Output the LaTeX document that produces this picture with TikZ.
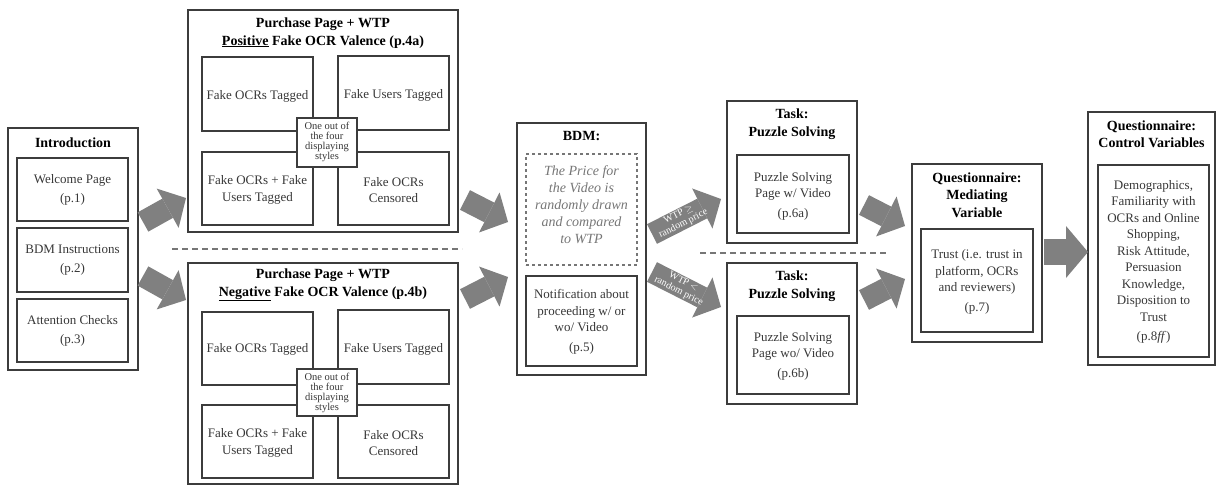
\documentclass[tikz,border=0pt]{standalone}
\usepackage{fontspec}
\setmainfont{Liberation Serif}
\usetikzlibrary{fit,arrows.meta}
\definecolor{linegray}{RGB}{60,60,60}
\definecolor{textgray}{RGB}{55,55,55}
\definecolor{arrowgray}{RGB}{128,128,128}
\definecolor{notegray}{RGB}{118,118,118}
\newcommand{\frameBox}[5]{ \node[frame, fit={(#2,#3) (#4,#5)}] (#1) {};}
\newcommand{\dashBox}[5]{ \node[frame, dashed, draw=notegray, fit={(#2,#3) (#4,#5)}] (#1) {};}
\newcommand{\styleBox}[5]{ \node[frame, fill=white, fit={(#2,#3) (#4,#5)}] (#1) {};}
\newcommand{\headnode}[4]{\node[head] (#1) at ( #2 , #3 ) {#4};}
\newcommand{\textnode}[4]{\node[body] (#1) at ( #2 , #3 ) {#4};}

\begin{document}
\begin{tikzpicture}[x=1pt,y=-1pt,
    frame/.style={draw=linegray, line width=1.2pt, inner sep=0pt},
    head/.style={font=\bfseries\fontsize{14}{17.5}\selectfont, align=center, inner sep=0pt},
    body/.style={text=textgray, font=\fontsize{13}{16.5}\selectfont, align=center, inner sep=0pt},
    small/.style={text=textgray, font=\fontsize{10.5}{10.2}\selectfont, align=center, inner sep=0pt},
    note/.style={text=notegray, font=\itshape\fontsize{14}{17}\selectfont, align=center, inner sep=0pt},
    tag/.style={text=white, font=\fontsize{10}{10.5}\selectfont, align=center, inner sep=0pt},
    flow/.style={draw=arrowgray, line width=22pt, -{Triangle[length=21pt,width=45pt,line width=0pt]}},
    wideflow/.style={draw=arrowgray, line width=26pt, -{Triangle[length=22pt,width=52pt,line width=0pt]}},
    split/.style={draw=notegray, line width=1.2pt, dash pattern=on 6pt off 4pt}]
        \useasboundingbox (0,0) rectangle (1217,485);
        % introduction
        \frameBox{intro}{8}{128}{138}{370}
        \headnode{introH}{73}{143}{Introduction}
        \frameBox{welcome}{17}{158}{128}{221}
        \textnode{welcomeT}{72.5}{190}{Welcome Page\\[3pt](p.1)}
        \frameBox{instr}{17}{228}{128}{292}
        \textnode{instrT}{72.5}{260}{BDM Instructions\\[3pt](p.2)}
        \frameBox{attn}{17}{299}{128}{362}
        \textnode{attnT}{72.5}{331}{Attention Checks\\[3pt](p.3)}
        % purchase page, positive
        \frameBox{posP}{188}{10}{458}{232}
        \headnode{posH}{323}{33}{Purchase Page + WTP\\\underline{Positive} Fake OCR Valence (p.4a)}
        \frameBox{posA}{202}{57}{313}{131}
        \textnode{posAT}{257.5}{96}{Fake OCRs Tagged}
        \frameBox{posB}{338}{56}{449}{130}
        \textnode{posBT}{393.5}{95}{Fake Users Tagged}
        \frameBox{posC}{202}{152}{313}{225}
        \textnode{posCT}{257.5}{190}{Fake OCRs + Fake\\Users Tagged}
        \frameBox{posD}{338}{152}{449}{225}
        \textnode{posDT}{393.5}{190}{Fake OCRs\\Censored}
        \styleBox{posS}{297}{118}{357}{167}
        \node[small] (posST) at (327,142) {One out of\\the four\\displaying\\styles};
        % purchase page, negative
        \frameBox{negP}{188}{263}{458}{484}
        \headnode{negH}{323}{285}{Purchase Page + WTP\\\underline{Negative} Fake OCR Valence (p.4b)}
        \frameBox{negA}{202}{312}{313}{385}
        \textnode{negAT}{257.5}{349}{Fake OCRs Tagged}
        \frameBox{negB}{338}{310}{449}{384}
        \textnode{negBT}{393.5}{349}{Fake Users Tagged}
        \frameBox{negC}{202}{405}{313}{478}
        \textnode{negCT}{257.5}{443}{Fake OCRs + Fake\\Users Tagged}
        \frameBox{negD}{338}{405}{449}{478}
        \textnode{negDT}{393.5}{443}{Fake OCRs\\Censored}
        \styleBox{negS}{297}{369}{357}{416}
        \node[small] (negST) at (327,393) {One out of\\the four\\displaying\\styles};
        % BDM
        \frameBox{bdm}{517}{123}{646}{375}
        \headnode{bdmH}{581.5}{136}{BDM:}
        \dashBox{draw}{526}{154}{637}{265}
        \node[note] (drawT) at (581.5,205) {The Price for\\the Video is\\randomly drawn\\and compared\\to WTP};
        \frameBox{notif}{526}{276}{637}{366}
        \textnode{notifT}{581.5}{322}{Notification about\\proceeding w/ or\\wo/ Video\\[3pt](p.5)};
        % tasks
        \frameBox{taskA}{727}{101}{857}{243}
        \headnode{taskAH}{792}{124}{Task:\\Puzzle Solving}
        \frameBox{taskAi}{737}{155}{849}{233}
        \textnode{taskAT}{793}{196}{Puzzle Solving\\Page w/ Video\\[3pt](p.6a)}
        \frameBox{taskB}{727}{263}{857}{404}
        \headnode{taskBH}{792}{286}{Task:\\Puzzle Solving}
        \frameBox{taskBi}{737}{316}{849}{394}
        \textnode{taskBT}{793}{356}{Puzzle Solving\\Page wo/ Video\\[3pt](p.6b)}
        % questionnaires
        \frameBox{med}{912}{164}{1042}{342}
        \headnode{medH}{977}{195}{Questionnaire:\\Mediating\\Variable}
        \frameBox{medi}{921}{229}{1033}{332}
        \textnode{medT}{977}{282}{Trust (i.e. trust in\\platform, OCRs\\and reviewers)\\[3pt](p.7)}
        \frameBox{ctrl}{1088}{112}{1215}{365}
        \headnode{ctrlH}{1151.5}{134}{Questionnaire:\\Control Variables}
        \frameBox{ctrli}{1098}{165}{1209}{357}
        \textnode{ctrlT}{1153.5}{262}{Demographics,\\Familiarity with\\OCRs and Online\\Shopping,\\Risk Attitude,\\Persuasion\\Knowledge,\\Disposition to\\Trust\\[3pt](p.8\textit{ff})}
        % separators
        \draw[split] (172,249) -- (462,249);
        \draw[split] (700,253) -- (886,253);
        % arrow ends
        \coordinate (i1) at (143,222); \coordinate (p1) at (186,198);
        \coordinate (i2) at (143,276); \coordinate (p2) at (186,300);
        \coordinate (q1) at (465,200); \coordinate (b1) at (508,222);
        \coordinate (q2) at (465,299); \coordinate (b2) at (508,277);
        \coordinate (b3) at (652,234); \coordinate (t1) at (721,199);
        \coordinate (b4) at (652,272); \coordinate (t2) at (721,307);
        \coordinate (t3) at (864,205); \coordinate (m1) at (905,226);
        \coordinate (t4) at (864,300); \coordinate (m2) at (905,279);
        \coordinate (m3) at (1044,252); \coordinate (c1) at (1088,252);
        % arrows
        \draw[flow] (i1) -- (p1);
        \draw[flow] (i2) -- (p2);
        \draw[flow] (q1) -- (b1);
        \draw[flow] (q2) -- (b2);
        \draw[flow] (b3) -- (t1) node[tag, pos=0.42, sloped] {WTP $\geq$\\random price};
        \draw[flow] (b4) -- (t2) node[tag, pos=0.42, sloped] {WTP $<$\\random price};
        \draw[flow] (t3) -- (m1);
        \draw[flow] (t4) -- (m2);
        \draw[wideflow] (m3) -- (c1);
\end{tikzpicture}
\end{document}
